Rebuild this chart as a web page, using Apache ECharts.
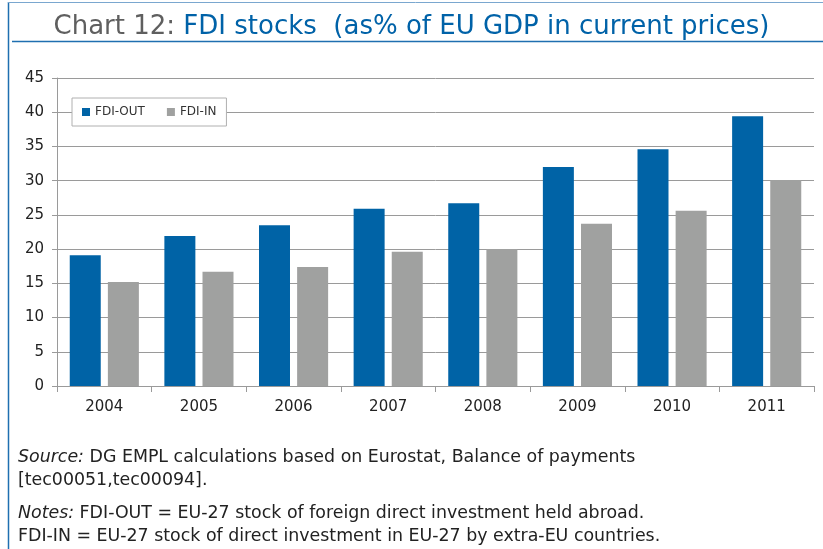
<!DOCTYPE html>
<html>
<head>
<meta charset="utf-8">
<script src="https://cdn.jsdelivr.net/npm/echarts@6/dist/echarts.min.js"></script>
<style>
  html, body { margin: 0; padding: 0; background: #fff; }
  #chart { width: 823px; height: 549px; }
</style>
</head>
<body>
<div id="chart"></div>
<script>
// chart data
const years = ['2004', '2005', '2006', '2007', '2008', '2009', '2010', '2011']
const fdiOut = [19.1, 21.9, 23.5, 25.9, 26.7, 32.0, 34.6, 39.4]
const fdiIn = [15.2, 16.7, 17.4, 19.6, 20.0, 23.7, 25.6, 30.1]
const yTicks = [0, 5, 10, 15, 20, 25, 30, 35, 40, 45]

const FONT = '"DejaVu Sans", sans-serif'
const BLUE = '#0063a6'
const GREY = '#a0a1a0'

const myChart = echarts.init(document.getElementById('chart'))
const italic = { fontStyle: 'italic', fontFamily: FONT, fontSize: 17.4, fill: '#222' }
const option = {
  animation: false,
  textStyle: { fontFamily: FONT },
  title: {
    left: 'center',
    top: 9,
    text: '{g|Chart 12: }{b|FDI stocks  (as% of EU GDP in current prices)}',
    textStyle: {
      fontWeight: 'normal',
      rich: {
        g: { fontFamily: FONT, fontSize: 26, color: '#5f5f5f', fontWeight: 'normal' },
        b: { fontFamily: FONT, fontSize: 26, color: '#0062a8', fontWeight: 'normal' }
      }
    }
  },
  legend: {
    left: 72,
    top: 98,
    itemWidth: 8,
    itemHeight: 8,
    itemGap: 22,
    padding: [8, 10, 8, 10],
    backgroundColor: '#fff',
    borderColor: '#b0b0b0',
    borderWidth: 1,
    textStyle: { fontFamily: FONT, fontSize: 12, color: '#333' },
    data: [
      { name: 'FDI-OUT', icon: 'rect' },
      { name: 'FDI-IN', icon: 'rect' }
    ]
  },
  grid: {
    left: 57,
    right: 9,
    top: 78,
    bottom: 163,
    containLabel: false
  },
  xAxis: {
    type: 'category',
    data: years,
    axisLine: { lineStyle: { color: '#9a9a9a', width: 1 } },
    axisTick: { show: true, length: 6, lineStyle: { color: '#9a9a9a' } },
    axisLabel: { fontFamily: FONT, fontSize: 15, color: '#222', margin: 14 }
  },
  yAxis: {
    type: 'value',
    min: yTicks[0],
    max: yTicks[yTicks.length - 1],
    interval: 5,
    axisLine: { show: true, lineStyle: { color: '#9a9a9a', width: 1 } },
    axisTick: { show: true, length: 5, lineStyle: { color: '#9a9a9a' } },
    axisLabel: { fontFamily: FONT, fontSize: 15, color: '#222', margin: 13 },
    splitLine: { show: true, lineStyle: { color: '#9a9a9a', width: 1 } }
  },
  series: [
    {
      name: 'FDI-OUT',
      type: 'bar',
      barWidth: 31,
      barGap: '23%',
      itemStyle: { color: BLUE },
      data: fdiOut
    },
    {
      name: 'FDI-IN',
      type: 'bar',
      barWidth: 31,
      itemStyle: { color: GREY },
      data: fdiIn
    }
  ],
  graphic: [
    // frame lines
    { type: 'line', shape: { x1: 8.5, y1: 2, x2: 8.5, y2: 549 }, style: { stroke: '#1f6fb0', lineWidth: 1.5 } },
    { type: 'line', shape: { x1: 8, y1: 2.5, x2: 823, y2: 2.5 }, style: { stroke: '#7aa7cf', lineWidth: 1 } },
    { type: 'line', shape: { x1: 12, y1: 41.5, x2: 823, y2: 41.5 }, style: { stroke: '#1f6fb0', lineWidth: 1.5 } },
    // footer
    {
      type: 'text', left: 18, top: 449,
      style: { text: '{i|Source:} DG EMPL calculations based on Eurostat, Balance of payments', font: '17.4px ' + FONT, fill: '#222', rich: { i: italic } }
    },
    {
      type: 'text', left: 18, top: 472,
      style: { text: '[tec00051,tec00094].', font: '17.4px ' + FONT, fill: '#222' }
    },
    {
      type: 'text', left: 18, top: 505,
      style: { text: '{i|Notes:} FDI-OUT = EU-27 stock of foreign direct investment held abroad.', font: '17.4px ' + FONT, fill: '#222', rich: { i: italic } }
    },
    {
      type: 'text', left: 18, top: 528,
      style: { text: 'FDI-IN = EU-27 stock of direct investment in EU-27 by extra-EU countries.', font: '17.4px ' + FONT, fill: '#222' }
    }
  ]
}
myChart.setOption(option)
window.onresize = () => {
  myChart.resize()
}
</script>
</body>
</html>
